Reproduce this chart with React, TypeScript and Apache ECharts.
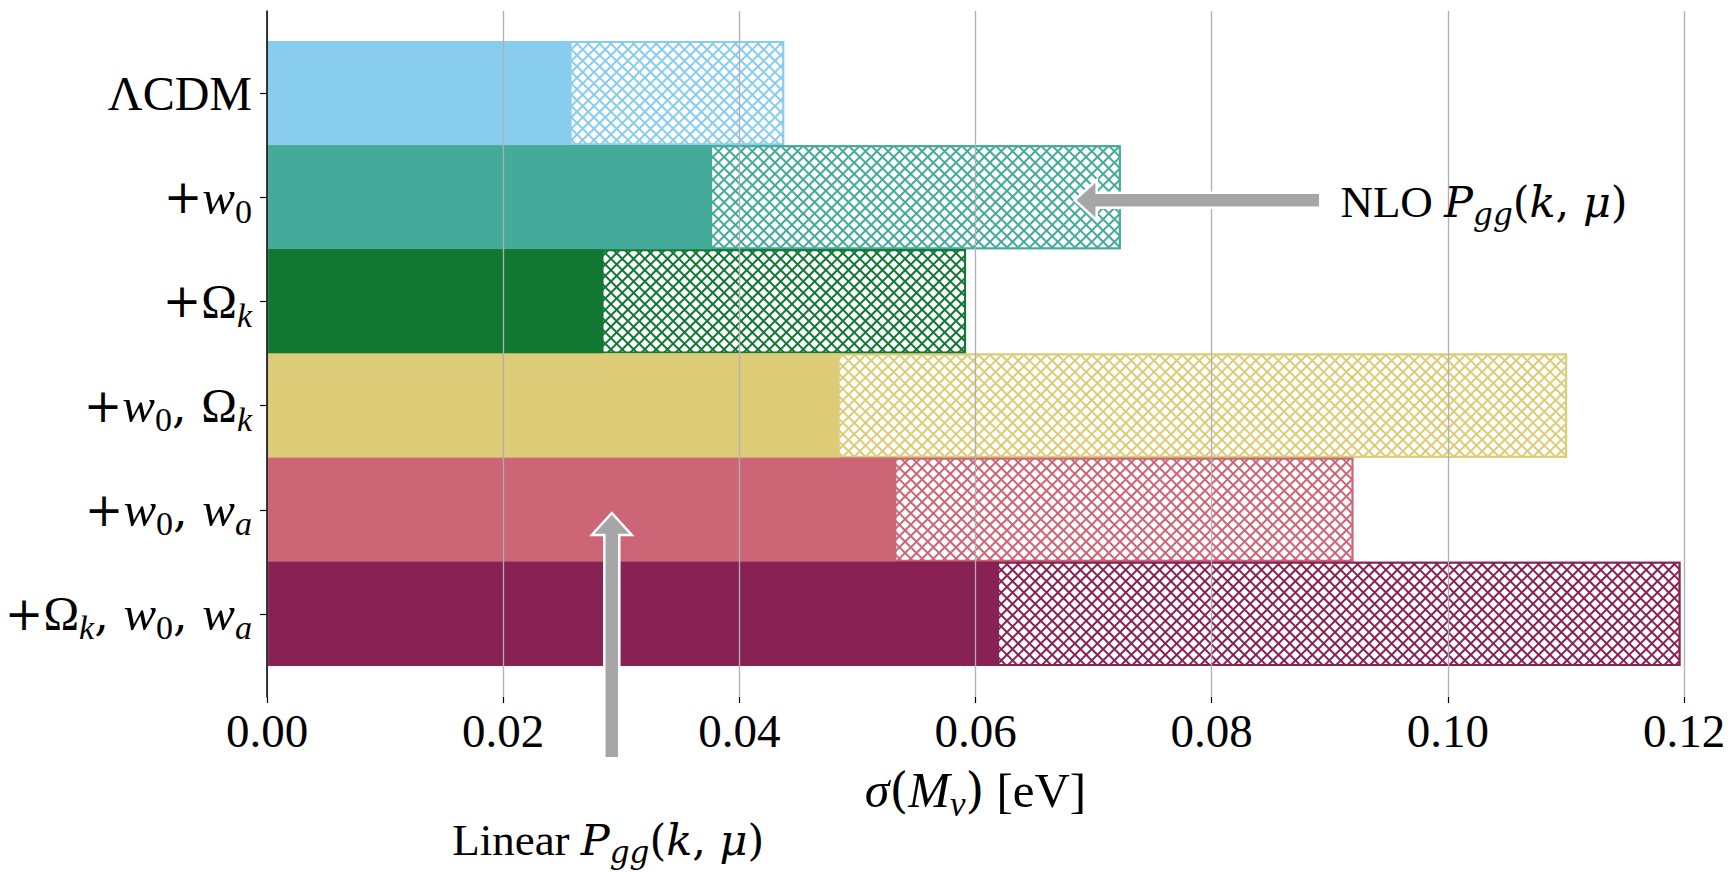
import React, { useEffect, useRef } from 'react';
import * as echarts from 'echarts';

// ---------- data ----------
const categories = ['ΛCDM', '$+w_0$', '$+Ω_k$', '$+w_0, Ω_k$', '$+w_0, w_a$', '$+Ω_k, w_0, w_a$'];
const linearSigma = [0.0258, 0.0377, 0.0285, 0.0485, 0.0533, 0.062];
const nloSigma = [0.0438, 0.0723, 0.0592, 0.1101, 0.092, 0.1197];
const barColors = ['#88CCEE', '#44AA99', '#117733', '#DDCC77', '#CC6677', '#882255'];
const xMin = 0;
const xMax = 0.12;
const xStep = 0.02;
const xAxisTitle = '$σ(M_ν)$ [eV]';
const nloLabel = 'NLO $P_{gg}(k, μ)$';
const linearLabel = 'Linear $P_{gg}(k, μ)$';
// annotation anchors in data coordinates: [sigma, category position]
const nloArrowTip = [0.0684, 1.02];
const nloArrowTail = [0.0892, 1.02];
const nloTextAt = [0.0909, 1.04];
const linearArrowTip = [0.0292, 4.03];
const linearArrowTail = [0.0292, 6.39];
const linearTextAt = [0.0289, 7.18];

// ---------- helpers ----------
const SERIF = 'Liberation Serif';
const MATH = 'DejaVu Serif';

function toRich(s: string): string {
  const parts: [string, string][] = [];
  const push = (st: string, t: string) => {
    if (!t) return;
    const last = parts[parts.length - 1];
    if (last && last[0] === st) last[1] += t;
    else parts.push([st, t]);
  };
  let math = false;
  let i = 0;
  while (i < s.length) {
    const c = s[i];
    if (c === '$') { math = !math; i++; continue; }
    if (math && c === '_') {
      let sub = '';
      if (s[i + 1] === '{') {
        const j = s.indexOf('}', i + 2);
        sub = s.slice(i + 2, j);
        i = j + 1;
      } else {
        sub = s[i + 1];
        i += 2;
      }
      for (const ch of sub) push(/[0-9]/.test(ch) ? 's' : 'si', ch);
      continue;
    }
    if (math && /[a-zA-Zα-ω]/.test(c)) push('i', c);
    else if (math && /[+(),\s]/.test(c)) push('m', c);
    else if (math) push('g', c);
    else push('r', c);
    i++;
  }
  return parts.map(([st, t]) => `{${st}|${t}}`).join('');
}

function richSet(o: {
  up: string; upSize: number; it: string; itSize: number; op: string; opSize: number;
  greek: string; greekSize: number; sub: string; subSize: number; lh: number; pad: number;
}) {
  const base = { color: '#000', lineHeight: o.lh };
  return {
    r: { ...base, fontFamily: o.up, fontSize: o.upSize },
    m: { ...base, fontFamily: o.op, fontSize: o.opSize },
    g: { ...base, fontFamily: o.greek, fontSize: o.greekSize },
    i: { ...base, fontFamily: o.it, fontSize: o.itSize, fontStyle: 'italic' },
    s: { color: '#000', fontFamily: o.sub, fontSize: o.subSize, lineHeight: o.lh - o.pad, padding: [o.pad, 0, 0, 0] },
    si: { color: '#000', fontFamily: o.sub, fontSize: o.subSize, fontStyle: 'italic', lineHeight: o.lh - o.pad, padding: [o.pad, 0, 0, 0] },
  };
}

const richLabels = richSet({
  up: SERIF, upSize: 48, it: SERIF, itSize: 49, op: MATH, opSize: 46,
  greek: SERIF, greekSize: 48, sub: SERIF, subSize: 34, lh: 58, pad: 28,
});
const richTitle = richSet({
  up: SERIF, upSize: 49, it: SERIF, itSize: 50, op: MATH, opSize: 48,
  greek: SERIF, greekSize: 49, sub: SERIF, subSize: 35, lh: 58, pad: 28,
});
const richAnno = richSet({
  up: SERIF, upSize: 45, it: MATH, itSize: 43, op: MATH, opSize: 43,
  greek: MATH, greekSize: 43, sub: MATH, subSize: 31, lh: 58, pad: 24,
});

function arrowPoints(tail: number[], tip: number[], w = 7.5, hw = 20, hl = 22) {
  const dx = tip[0] - tail[0];
  const dy = tip[1] - tail[1];
  const len = Math.sqrt(dx * dx + dy * dy);
  const ux = dx / len, uy = dy / len;
  const nx = -uy, ny = ux;
  const bx = tip[0] - ux * hl, by = tip[1] - uy * hl;
  return [
    [tail[0] + nx * w, tail[1] + ny * w],
    [bx + nx * w, by + ny * w],
    [bx + nx * hw, by + ny * hw],
    [tip[0], tip[1]],
    [bx - nx * hw, by - ny * hw],
    [bx - nx * w, by - ny * w],
    [tail[0] - nx * w, tail[1] - ny * w],
  ];
}

const hatch = {
  symbol: 'rect',
  symbolSize: 1,
  color: '#ffffff',
  dashArrayX: [6, 2],
  dashArrayY: [6, 2],
  rotation: Math.PI / 4,
};

export default function App() {
  const ref = useRef<HTMLDivElement>(null);
  useEffect(() => {
    document.body.style.margin = '0';
    const chart = echarts.init(ref.current as HTMLDivElement, null, { renderer: 'svg' });
    const option: any = {
      animation: false,
      backgroundColor: '#ffffff',
      grid: [
        { left: 267, top: 41, width: 1417, height: 625 },
        { left: 267, top: 11, width: 1417, height: 686 },
      ],
      xAxis: [
        { gridIndex: 0, type: 'value', min: xMin, max: xMax, show: false },
        {
          gridIndex: 1,
          type: 'value',
          min: xMin,
          max: xMax,
          interval: xStep,
          position: 'bottom',
          z: 5,
          axisLine: { show: false, onZero: false },
          axisTick: { show: true, length: 6, lineStyle: { color: '#000', width: 1.2 } },
          splitLine: { show: true, lineStyle: { color: '#b0b0b0', width: 1.3 } },
          axisLabel: {
            formatter: (v: number) => v.toFixed(2),
            fontFamily: SERIF,
            fontSize: 47,
            color: '#000',
            margin: 10,
          },
          name: toRich(xAxisTitle),
          nameLocation: 'middle',
          nameGap: 52,
          nameTextStyle: { rich: richTitle },
        },
      ],
      yAxis: [
        {
          gridIndex: 0,
          type: 'category',
          data: categories,
          inverse: true,
          axisLine: { show: false },
          axisTick: { show: true, alignWithLabel: true, length: 7, lineStyle: { color: '#000', width: 1.2 } },
          splitLine: { show: false },
          axisLabel: {
            margin: 15,
            formatter: (v: string) => toRich(v),
            rich: richLabels,
          },
        },
        {
          gridIndex: 1,
          type: 'value',
          min: -0.8,
          max: 5.8,
          inverse: true,
          z: 6,
          axisLine: { show: true, onZero: false, lineStyle: { color: '#000', width: 1.5 } },
          axisTick: { show: false },
          axisLabel: { show: false },
          splitLine: { show: false },
        },
      ],
      series: [
        {
          type: 'bar',
          name: 'NLO',
          xAxisIndex: 0,
          yAxisIndex: 0,
          barWidth: '100%',
          barGap: '-100%',
          z: 2,
          data: nloSigma.map((v, i) => ({
            value: v,
            itemStyle: { color: barColors[i], borderColor: barColors[i], borderWidth: 2, decal: hatch },
          })),
        },
        {
          type: 'bar',
          name: 'Linear',
          xAxisIndex: 0,
          yAxisIndex: 0,
          barWidth: '100%',
          barGap: '-100%',
          z: 2,
          data: linearSigma.map((v, i) => ({ value: v, itemStyle: { color: barColors[i] } })),
        },
      ],
    };
    chart.setOption(option);

    const px = (p: number[]) => chart.convertToPixel({ gridIndex: 1 }, p) as number[];
    const arrowStyle = { fill: '#a6a6a6', stroke: '#ffffff', lineWidth: 2.5 };
    const nloT = px(nloTextAt);
    const linT = px(linearTextAt);
    chart.setOption({
      graphic: [
        { type: 'polygon', z: 100, shape: { points: arrowPoints(px(nloArrowTail), px(nloArrowTip)) }, style: arrowStyle },
        { type: 'polygon', z: 100, shape: { points: arrowPoints(px(linearArrowTail), px(linearArrowTip)) }, style: arrowStyle },
        {
          type: 'text', z: 100, x: nloT[0], y: nloT[1],
          style: { text: toRich(nloLabel), rich: richAnno, align: 'left', verticalAlign: 'middle' },
        },
        {
          type: 'text', z: 100, x: linT[0], y: linT[1],
          style: { text: toRich(linearLabel), rich: richAnno, align: 'center', verticalAlign: 'middle' },
        },
      ],
    });
    return () => chart.dispose();
  }, []);
  return <div ref={ref} style={{ position: 'absolute', left: 0, top: 0, width: 1732, height: 872 }} />;
}
